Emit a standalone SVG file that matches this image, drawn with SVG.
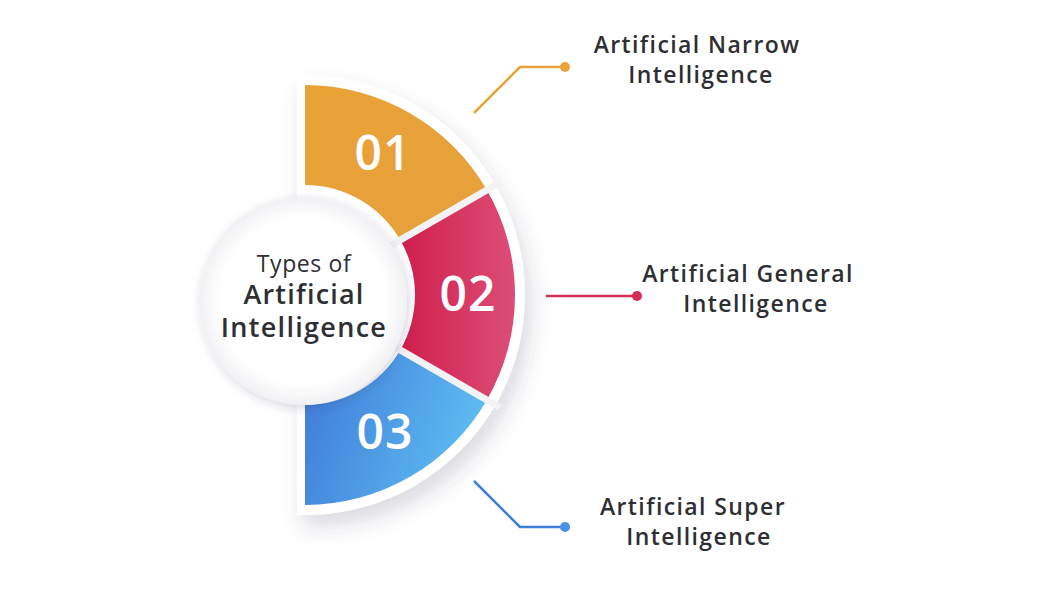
<svg xmlns="http://www.w3.org/2000/svg" width="1050" height="600" viewBox="0 0 1050 600">
<defs>
  <linearGradient id="gRed" x1="0" y1="0" x2="1" y2="0">
    <stop offset="0" stop-color="#D01E4C"/>
    <stop offset="1" stop-color="#DC4E76"/>
  </linearGradient>
  <linearGradient id="gBlue" x1="0" y1="0" x2="1" y2="0.3">
    <stop offset="0" stop-color="#3E78D8"/>
    <stop offset="1" stop-color="#5DBBF0"/>
  </linearGradient>
  <linearGradient id="gOrange" x1="0" y1="0" x2="1" y2="1">
    <stop offset="0" stop-color="#E9A236"/>
    <stop offset="1" stop-color="#E6A13C"/>
  </linearGradient>
  <radialGradient id="gCircle" cx="0.5" cy="0.5" r="0.5">
    <stop offset="0.8" stop-color="#FFFFFF"/>
    <stop offset="1" stop-color="#F1F1F4"/>
  </radialGradient>
  <filter id="shadow" x="-30%" y="-30%" width="160%" height="160%">
    <feDropShadow dx="6" dy="12" stdDeviation="10" flood-color="#3a3a60" flood-opacity="0.18"/>
  </filter>
  <filter id="cshadow" x="-30%" y="-30%" width="160%" height="160%">
    <feDropShadow dx="2" dy="3" stdDeviation="5" flood-color="#3a3a60" flood-opacity="0.2"/>
  </filter>
  <style>
    .num { font-family: "Open Sans", "DejaVu Sans", sans-serif; font-weight: 600; font-size: 48px; fill: #FFFFFF; text-anchor: middle; letter-spacing: 1px; }
    .lbl { font-family: "Open Sans", "DejaVu Sans", sans-serif; font-weight: 600; font-size: 23px; fill: #2E2F33; text-anchor: middle; letter-spacing: 1.4px; }
    .ctr { font-family: "Open Sans", "DejaVu Sans", sans-serif; fill: #2E2F33; text-anchor: middle; }
    .gap { stroke: #F3F3F6; stroke-width: 7; fill: none; }
    .conn { fill: none; stroke-width: 2.5; stroke-linejoin: round; }
  </style>
</defs>
<rect width="1050" height="600" fill="#FFFFFF"/>

<g id="backing">
  <path d="M297,75 L305,75 A220,220 0 0 1 305,515 L297,515 Z" fill="#FFFFFF" filter="url(#shadow)"/>
</g>

<g id="seg01">
  <path d="M305,85 A210,210 0 0 1 486.87,190 L400.26,240 A110,110 0 0 0 305,185 Z" fill="url(#gOrange)"/>
  <text class="num" x="383" y="170">01</text>
</g>
<g id="seg02">
  <path d="M486.87,190 A210,210 0 0 1 486.87,400 L400.26,350 A110,110 0 0 0 400.26,240 Z" fill="url(#gRed)"/>
  <text class="num" x="468" y="311">02</text>
</g>
<g id="seg03">
  <path d="M486.87,400 A210,210 0 0 1 305,505 L305,405 A110,110 0 0 0 400.26,350 Z" fill="url(#gBlue)"/>
  <text class="num" x="385" y="449">03</text>
</g>
<g id="gaps">
  <line class="gap" x1="391.6" y1="245" x2="499.9" y2="182.5"/>
  <line class="gap" x1="391.6" y1="345" x2="499.9" y2="407.5"/>
</g>

<g id="center">
  <circle cx="303" cy="301" r="104" fill="url(#gCircle)" filter="url(#cshadow)"/>
  <text class="ctr" x="304" y="272" font-size="23" letter-spacing="0.6">Types of</text>
  <text class="ctr" x="304" y="304" font-size="27" font-weight="600" letter-spacing="1.2">Artificial</text>
  <text class="ctr" x="304" y="337" font-size="27" font-weight="600" letter-spacing="1.3">Intelligence</text>
</g>

<g id="connectors">
  <polyline class="conn" stroke="#E8A33D" points="474,113 520,67 565,67"/>
  <circle cx="565" cy="67" r="5" fill="#E8A33D"/>
  <line class="conn" stroke="#D42E57" x1="546" y1="296" x2="637" y2="296"/>
  <circle cx="637" cy="296" r="5" fill="#D42E57"/>
  <polyline class="conn" stroke="#3D7FDB" points="474,481 520,527 565,527"/>
  <circle cx="565" cy="527" r="5" fill="#4A90E6"/>
</g>

<g id="label01">
  <text class="lbl" x="697" y="53">Artificial Narrow</text>
  <text class="lbl" x="701" y="83">Intelligence</text>
</g>
<g id="label02">
  <text class="lbl" x="748" y="282">Artificial General</text>
  <text class="lbl" x="756" y="312">Intelligence</text>
</g>
<g id="label03">
  <text class="lbl" x="693" y="515">Artificial Super</text>
  <text class="lbl" x="699" y="545">Intelligence</text>
</g>
</svg>
